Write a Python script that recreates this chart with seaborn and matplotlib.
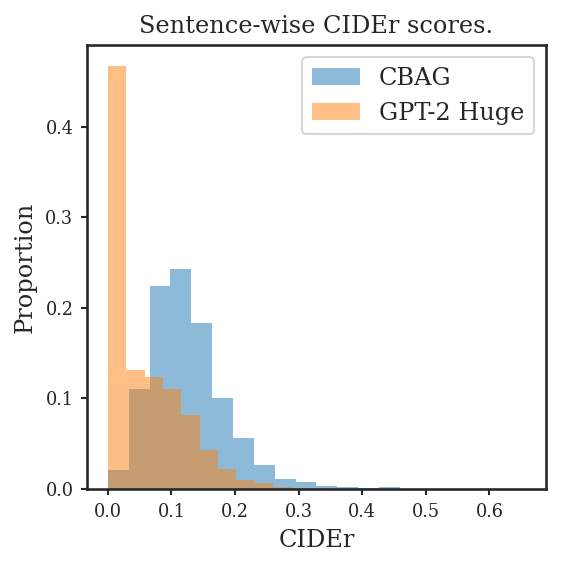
import numpy as np
import pandas as pd
import matplotlib
matplotlib.use("Agg")
import matplotlib.pyplot as plt
import seaborn as sns

# bin widths (20 bins each)
cbag_edges = np.linspace(0, 0.656, 21)
gpt_edges = np.linspace(0, 0.578, 21)

cbag_props = [0.021, 0.110, 0.224, 0.243, 0.183, 0.101, 0.056, 0.027, 0.011, 0.0075,
              0.003, 0.0018, 0.0008, 0.0022, 0.0003, 0.0002, 0.0002, 0.0001, 0.0, 0.0002]
gpt_props = [0.4665, 0.1316, 0.1235, 0.1105, 0.0817, 0.0433, 0.0218, 0.0096, 0.0063, 0.0018,
             0.001, 0.0008, 0.0005, 0.0004, 0.0003, 0.0002, 0.0001, 0.0001, 0.0, 0.0001]

labels = ["CBAG", "GPT-2 Huge"]

sns.set_theme(style="ticks")
plt.rcParams['font.family'] = ['DejaVu Serif']

fig, ax = plt.subplots(figsize=(561/150, 566/150), dpi=150)
fig.subplots_adjust(left=0.155, right=0.973, top=0.920, bottom=0.136)

cbag = pd.DataFrame({"cider": (cbag_edges[:-1] + cbag_edges[1:]) / 2, "prop": cbag_props})
gpt = pd.DataFrame({"cider": (gpt_edges[:-1] + gpt_edges[1:]) / 2, "prop": gpt_props})

sns.histplot(data=cbag, x="cider", weights="prop", bins=list(cbag_edges), color="tab:blue",
             alpha=0.5, linewidth=0, ax=ax, label=labels[0])
sns.histplot(data=gpt, x="cider", weights="prop", bins=list(gpt_edges), color="tab:orange",
             alpha=0.5, linewidth=0, ax=ax, label=labels[1])

ax.set_title("Sentence-wise CIDEr scores.", fontsize=11.5)
ax.set_xlabel("CIDEr", fontsize=11.5)
ax.set_ylabel("Proportion", fontsize=11.5)
ax.set_xticks([0.0, 0.1, 0.2, 0.3, 0.4, 0.5, 0.6])
ax.set_yticks([0.0, 0.1, 0.2, 0.3, 0.4])
ax.tick_params(labelsize=8.5, length=3, width=1)
ax.legend(fontsize=11.5, loc="upper right")

fig.savefig("out.png", dpi=150)
